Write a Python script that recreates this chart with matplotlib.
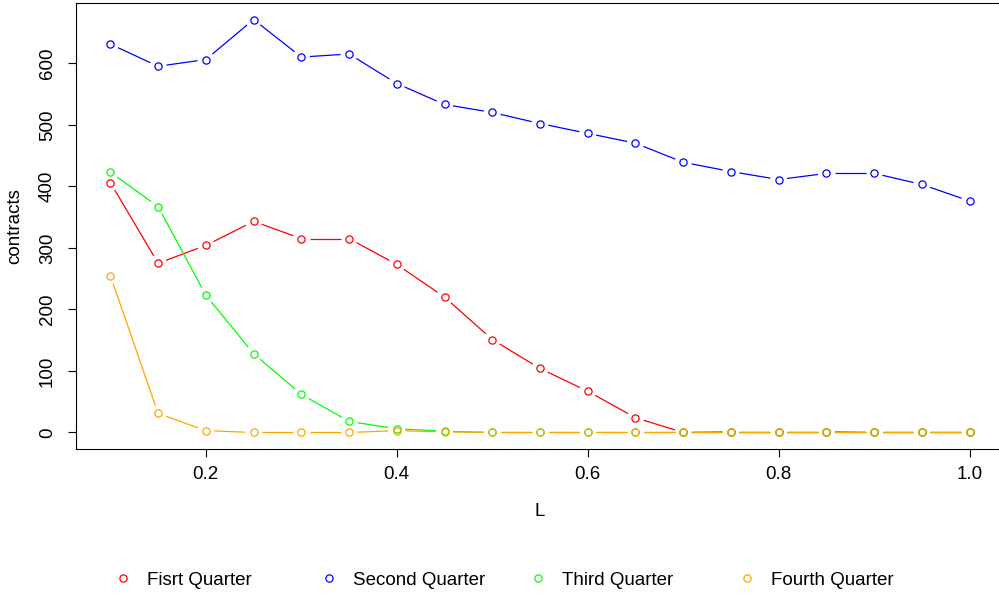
import matplotlib
matplotlib.use("Agg")
import matplotlib.pyplot as plt
import numpy as np
from matplotlib.lines import Line2D

plt.rcParams["font.family"] = ["Liberation Sans", "DejaVu Sans"]

L_VALUES = [0.10, 0.15, 0.20, 0.25, 0.30, 0.35, 0.40, 0.45, 0.50, 0.55,
            0.60, 0.65, 0.70, 0.75, 0.80, 0.85, 0.90, 0.95, 1.00]
FIRST_Q = [406, 275, 304, 343, 315, 315, 273, 220, 151, 104,
           67, 24, 0, 1, 1, 1, 0, 0, 0]
SECOND_Q = [631, 595, 606, 671, 610, 615, 567, 533, 520, 502,
            486, 470, 439, 424, 411, 421, 421, 403, 376]
THIRD_Q = [423, 367, 223, 128, 62, 18, 6, 2, 0, 0,
           0, 0, 0, 0, 0, 0, 0, 0, 0]
FOURTH_Q = [255, 31, 3, 0, 0, 0, 3, 1, 0, 0,
            0, 0, 0, 0, 0, 0, 0, 0, 0]
SERIES_NAMES = ["Fisrt Quarter", "Second Quarter", "Third Quarter", "Fourth Quarter"]
SERIES_COLORS = ["#FF0000", "#0000FF", "#00FF00", "#FFA500"]
X_TICKS = [0.2, 0.4, 0.6, 0.8, 1.0]
Y_TICKS = [0, 100, 200, 300, 400, 500, 600]

FS = 13.5
W, H = 999, 594
fig = plt.figure(figsize=(W / 100, H / 100), dpi=100)
ax = fig.add_axes([76 / W, (H - 449) / H, (1004 - 76) / W, (449 - 3) / H])

all_y = FIRST_Q + SECOND_Q + THIRD_Q + FOURTH_Q
xr = max(L_VALUES) - min(L_VALUES)
yr = max(all_y) - min(all_y)
ax.set_xlim(min(L_VALUES) - 0.04 * xr, max(L_VALUES) + 0.04 * xr)
ax.set_ylim(min(all_y) - 0.04 * yr, max(all_y) + 0.04 * yr)


def draw_type_b(ax, x, y, color, gap_px=8.5):
    # R-style type="b": segments stop short of each point
    pts = ax.transData.transform(np.column_stack([x, y]))
    inv = ax.transData.inverted()
    for p0, p1 in zip(pts[:-1], pts[1:]):
        d = p1 - p0
        n = np.hypot(*d)
        if n <= 2 * gap_px:
            continue
        u = d / n
        a = inv.transform(p0 + u * gap_px)
        b = inv.transform(p1 - u * gap_px)
        ax.plot([a[0], b[0]], [a[1], b[1]], color=color, lw=0.9, solid_capstyle="butt")
    ax.plot(x, y, linestyle="none", marker="o", markersize=5.2,
            markerfacecolor="none", markeredgecolor=color, markeredgewidth=0.9)


for yvals, col in zip([FIRST_Q, SECOND_Q, THIRD_Q, FOURTH_Q], SERIES_COLORS):
    draw_type_b(ax, L_VALUES, yvals, col)

ax.set_xticks(X_TICKS)
ax.set_xticklabels([f"{v:.1f}" for v in X_TICKS])
ax.set_yticks(Y_TICKS)
ax.tick_params(axis="both", direction="out", length=5.5, width=0.8, labelsize=FS)
ax.tick_params(axis="x", pad=7)
ax.tick_params(axis="y", pad=9, labelrotation=90)
for lab in ax.get_yticklabels():
    lab.set_verticalalignment("center")
for sp in ax.spines.values():
    sp.set_linewidth(0.8)
ax.set_xlabel("L", fontsize=FS, labelpad=14)
ax.set_ylabel("contracts", fontsize=FS, va="center")
ax.yaxis.set_label_coords((15 - 76) / ((1004 - 76)), 0.5)

legend_x = [114, 320, 529, 738]
for name, col, lx in zip(SERIES_NAMES, SERIES_COLORS, legend_x):
    h = Line2D([], [], linestyle="none", marker="o", markersize=5.2,
               markerfacecolor="none", markeredgecolor=col, markeredgewidth=0.9)
    fig.legend(handles=[h], labels=[name], loc="center left",
               bbox_to_anchor=(lx / W, (H - 580) / H), frameon=False,
               fontsize=FS, handlelength=1.0, handletextpad=0.75,
               borderpad=0, borderaxespad=0)

fig.savefig("out.png", dpi=100)
